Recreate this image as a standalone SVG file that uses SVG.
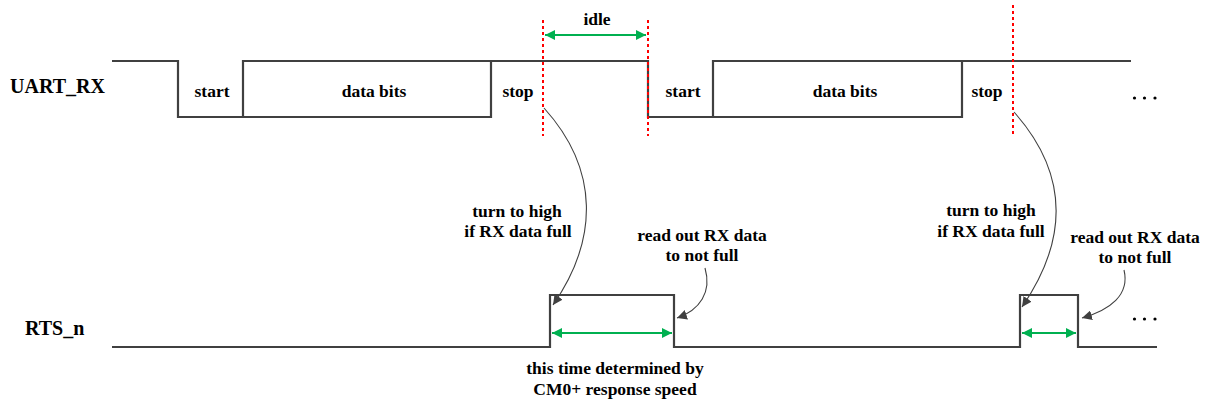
<svg xmlns="http://www.w3.org/2000/svg" width="1207" height="403" viewBox="0 0 1207 403">
<defs>
<style>
.sig{fill:none;stroke:#404040;stroke-width:2.2}
.red{fill:none;stroke:#ff0000;stroke-width:2;stroke-dasharray:3,3}
.grn{fill:none;stroke:#00b050;stroke-width:2}
.cur{fill:none;stroke:#404040;stroke-width:1.1}
.dot{fill:#000}
text{font-family:"Liberation Serif","Times New Roman",serif;font-weight:bold;font-size:17.5px;fill:#000;text-anchor:middle}
.big{font-size:20px;text-anchor:start}
</style>
<marker id="ga" viewBox="0 0 10 10" refX="10" refY="5" markerWidth="5" markerHeight="5" orient="auto-start-reverse" markerUnits="strokeWidth">
<path d="M0,0 L10,5 L0,10 z" fill="#00b050"/>
</marker>
<marker id="ka" viewBox="0 0 10 10" refX="10" refY="5" markerWidth="9" markerHeight="9" orient="auto" markerUnits="strokeWidth">
<path d="M0,0 L10,5 L0,10 z" fill="#404040"/>
</marker>
</defs>

<g id="labels">
<text class="big" x="10" y="93">UART_RX</text>
<text class="big" x="25" y="335">RTS_n</text>
</g>

<g id="uart_rx">
<path class="sig" d="M112,61 H178 V117 H491 V61"/>
<path class="sig" d="M243,117 V61 H648 V117 H962 V61"/>
<path class="sig" d="M713,117 V61 H1131"/>
<text x="212" y="97">start</text>
<text x="374" y="97">data bits</text>
<text x="518" y="97">stop</text>
<text x="683" y="97">start</text>
<text x="845" y="97">data bits</text>
<text x="987" y="97">stop</text>
<circle class="dot" cx="1134.5" cy="98" r="1.6"/>
<circle class="dot" cx="1144.5" cy="98" r="1.6"/>
<circle class="dot" cx="1155" cy="98" r="1.6"/>
</g>

<g id="rts_n">
<path class="sig" d="M112,347 H550 V295 H674 V347 H1020 V295 H1078 V347 H1157"/>
<circle class="dot" cx="1134.5" cy="319" r="1.6"/>
<circle class="dot" cx="1144.5" cy="319" r="1.6"/>
<circle class="dot" cx="1155" cy="319" r="1.6"/>
</g>

<g id="markers">
<line class="red" x1="543" y1="20" x2="543" y2="136"/>
<line class="red" x1="648" y1="20" x2="648" y2="136"/>
<line class="red" x1="1013" y1="5" x2="1013" y2="136"/>
</g>

<g id="idle">
<line class="grn" x1="545" y1="35" x2="646" y2="35" marker-start="url(#ga)" marker-end="url(#ga)"/>
<text x="597" y="25">idle</text>
</g>

<g id="annotations">
<text x="517" y="217">turn to high</text>
<text x="518" y="237">if RX data full</text>
<text x="702" y="241">read out RX data</text>
<text x="702" y="261">to not full</text>
<text x="991" y="216">turn to high</text>
<text x="991" y="237">if RX data full</text>
<text x="1135" y="243">read out RX data</text>
<text x="1135" y="263">to not full</text>
<text x="615" y="374">this time determined by</text>
<text x="615" y="395">CM0+ response speed</text>
</g>

<g id="connectors">
<path class="cur" d="M544,108 C600,170 598,240 553,305" marker-end="url(#ka)"/>
<path class="cur" d="M705,268 C712,292 700,310 677,318" marker-end="url(#ka)"/>
<path class="cur" d="M1014,112 C1070,175 1068,240 1022,307" marker-end="url(#ka)"/>
<path class="cur" d="M1124,270 C1130,295 1110,310 1082,318" marker-end="url(#ka)"/>
<line class="grn" x1="552" y1="333" x2="672" y2="333" marker-start="url(#ga)" marker-end="url(#ga)"/>
<line class="grn" x1="1022" y1="333" x2="1076" y2="333" marker-start="url(#ga)" marker-end="url(#ga)"/>
</g>
</svg>
